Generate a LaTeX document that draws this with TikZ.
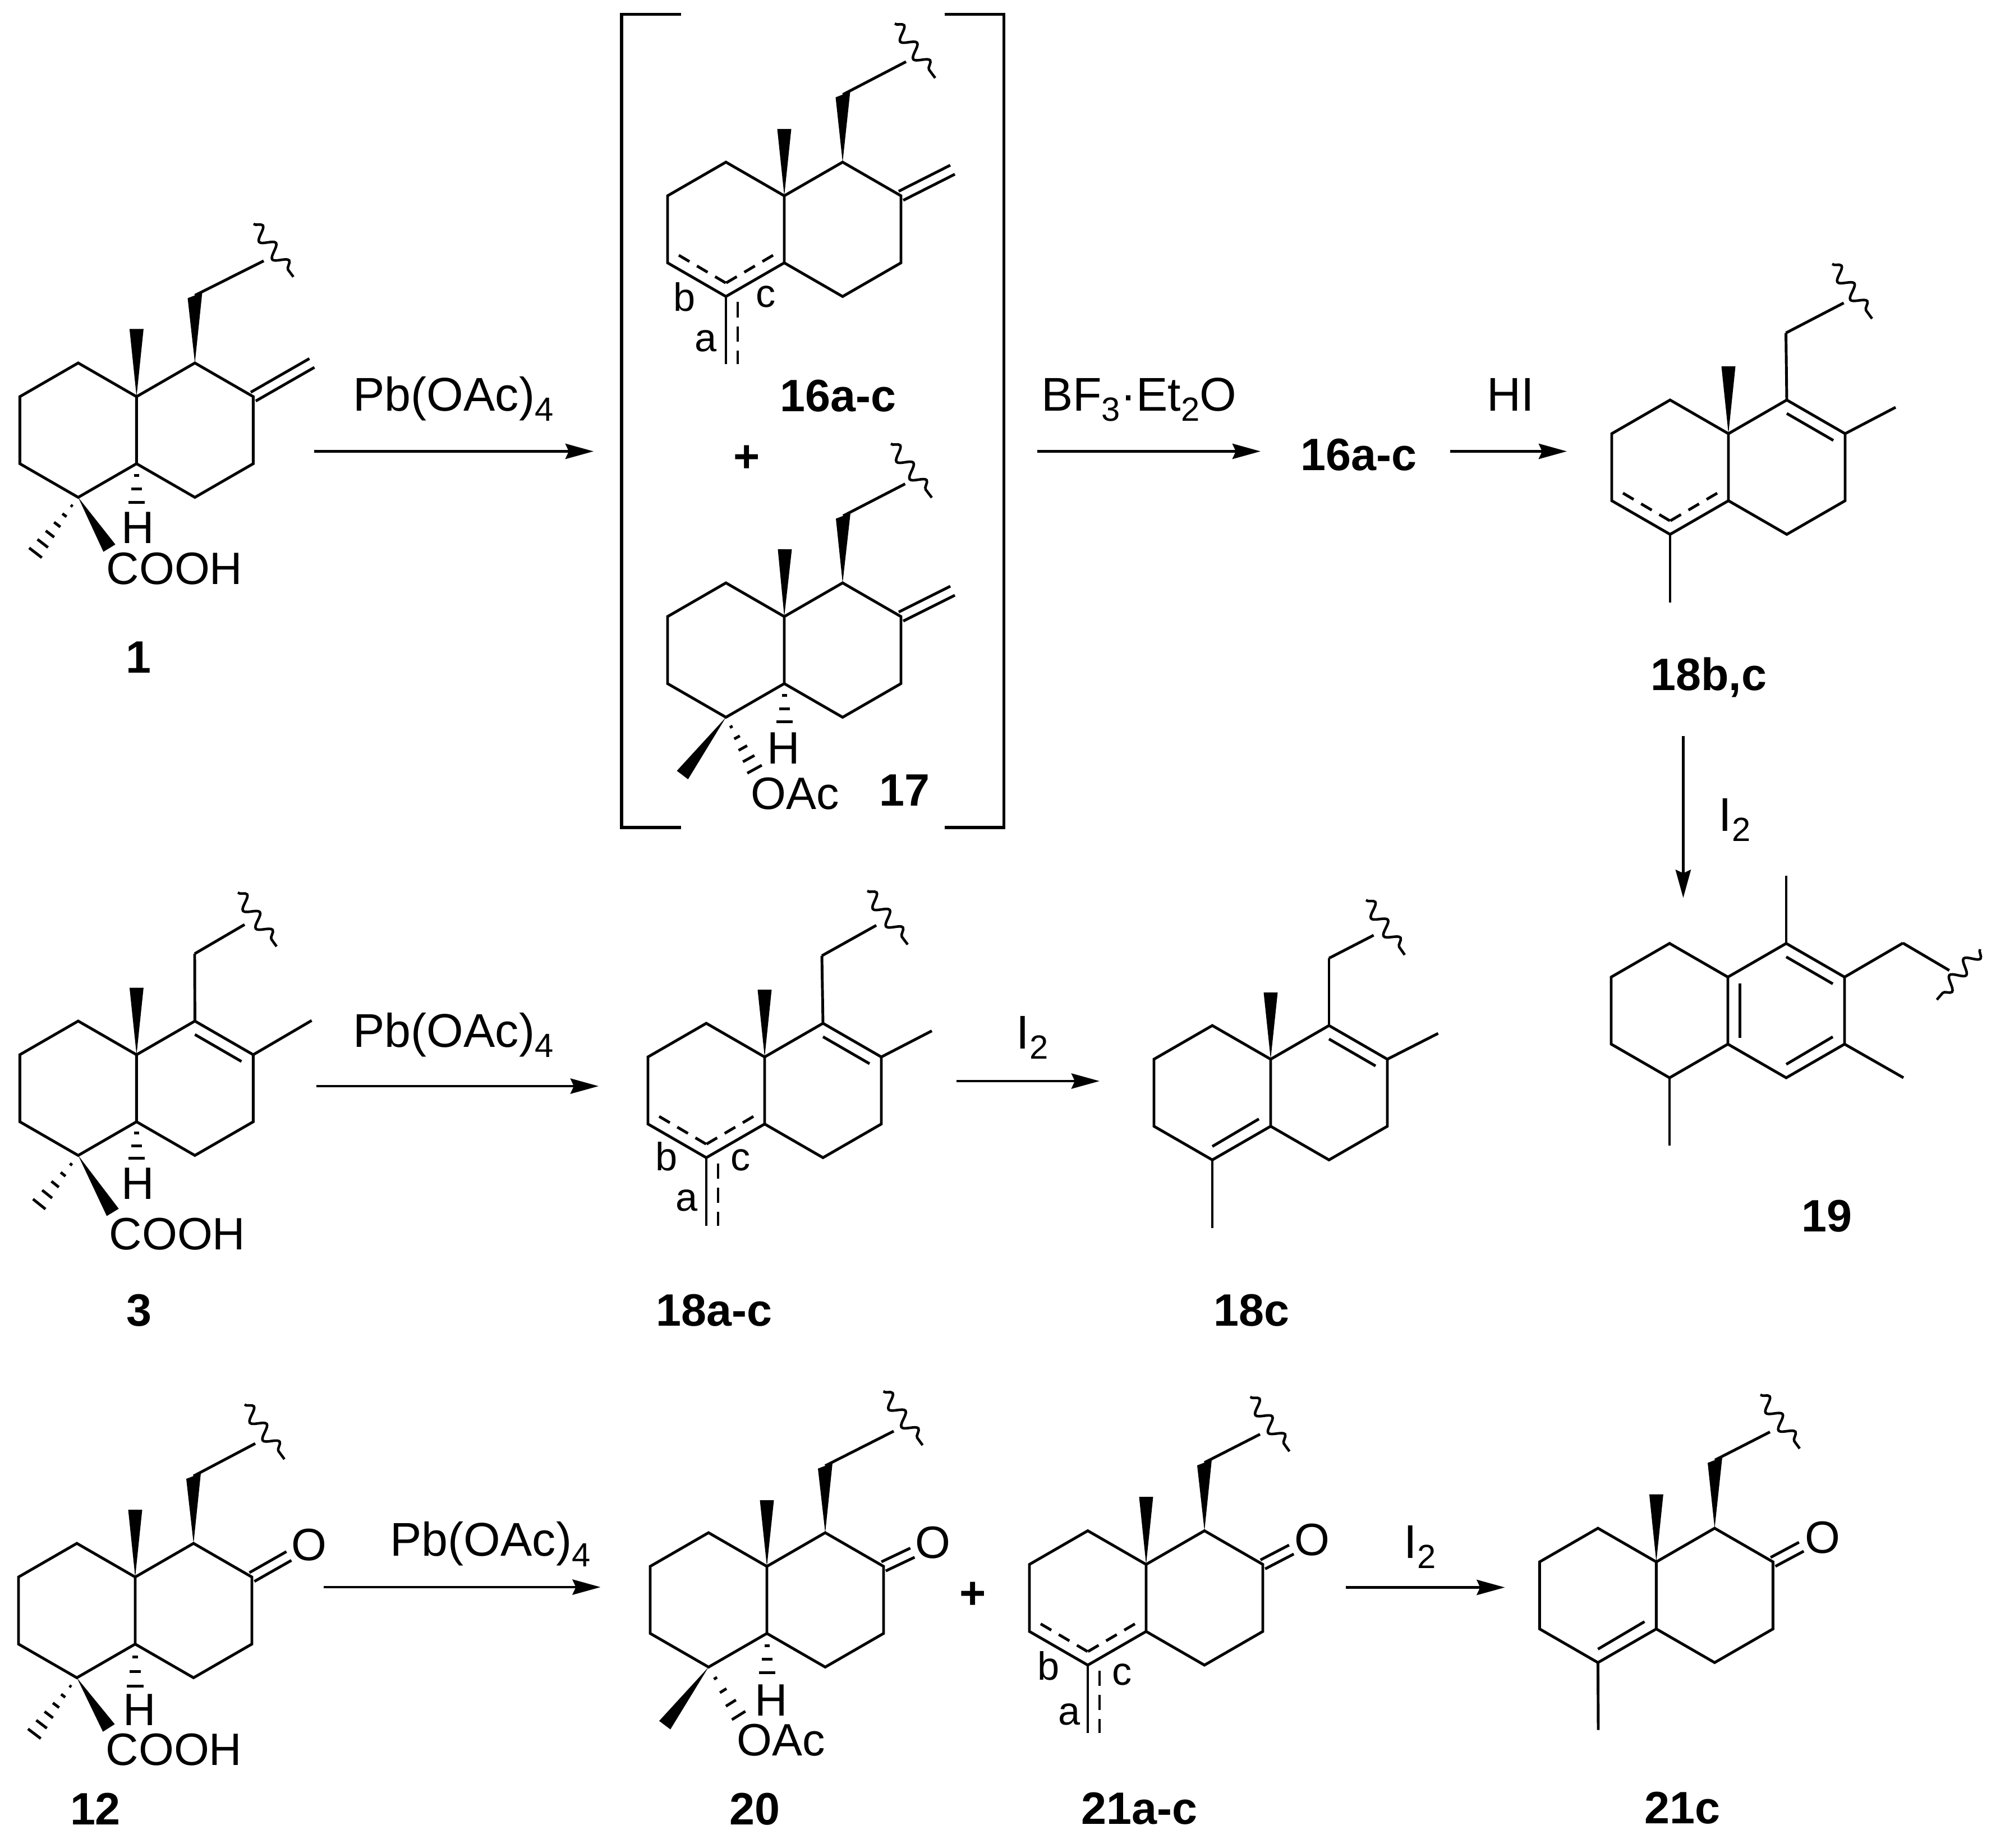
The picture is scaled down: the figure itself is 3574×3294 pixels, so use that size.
\documentclass[tikz,border=0pt]{standalone}
\usepackage{fontspec}
\setmainfont{Liberation Sans}
\usepackage{tikz}
\usetikzlibrary{arrows.meta, calc, decorations.pathmorphing}

\tikzset{
  bond/.style={line width=1.4pt},
  dashbond/.style={line width=1.4pt, dash pattern=on 2.7mm off 1.6mm},
  ringdash/.style={line width=1.4pt, dash pattern=on 2.2mm off 1.55mm},
  wavy/.style={line width=1.3pt, decorate, decoration={snake, segment length=3.9mm, amplitude=1.15mm}},
  rxn/.style={line width=1.4pt, -{Stealth[length=5mm, width=2.7mm, inset=0.6mm]}},
  atom/.style={inner sep=0pt, font=\fontsize{23}{27}\selectfont},
  reagent/.style={inner sep=0pt, anchor=base, font=\fontsize{24}{27}\selectfont},
  site/.style={inner sep=0pt, font=\fontsize{20}{22}\selectfont},
  cmpd/.style={inner sep=0pt, font=\fontsize{23}{27}\selectfont\bfseries}
}

% the two fused rings
\newcommand{\skeleton}[3]{
  \coordinate (#1c10) at (#2,#3);
  \coordinate (#1c1) at ($(#1c10)+(-104,-60)$);
  \coordinate (#1c2) at ($(#1c10)+(-208,0)$);
  \coordinate (#1c3) at ($(#1c10)+(-208,119.5)$);
  \coordinate (#1c4) at ($(#1c10)+(-104,179.5)$);
  \coordinate (#1c5) at ($(#1c10)+(0,119.5)$);
  \coordinate (#1c6) at ($(#1c10)+(104,179.5)$);
  \coordinate (#1c7) at ($(#1c10)+(208,119.5)$);
  \coordinate (#1c8) at ($(#1c10)+(208,0)$);
  \coordinate (#1c9) at ($(#1c10)+(104,-60)$);
  \draw[bond] (#1c10) -- (#1c1) -- (#1c2) -- (#1c3) -- (#1c4) -- (#1c5) -- cycle;
  \draw[bond] (#1c10) -- (#1c9) -- (#1c8) -- (#1c7) -- (#1c6) -- (#1c5);
}
\newcommand{\wedgebond}[2]{
  \fill ($(#2)!1.25mm!90:(#1)$) -- (#1) -- ($(#2)!1.25mm!-90:(#1)$) -- cycle;
}
\newcommand{\skewwedge}[2]{
  \fill (#1) -- ($(#2)+(-13,5)$) -- ($(#2)+(13,-5)$) -- cycle;
}
% #3 full width at the far end, #4 number of strokes
\newcommand{\hashbond}[4]{
  \foreach \i in {1,...,#4}{
    \pgfmathsetmacro{\t}{(\i-0.1)/#4}
    \pgfmathsetmacro{\hw}{\t*#3/2}
    \coordinate (hp) at ($(#1)!\t!(#2)$);
    \draw[bond] ($(hp)!\hw mm!90:(#2)$) -- ($(hp)!\hw mm!-90:(#2)$);
  }
}
\newcommand{\exodouble}[2]{
  \draw[bond] ($(#1)!0.9mm!90:(#2)$) -- ($(#2)!0.9mm!-90:(#1)$);
  \draw[bond] ($(#1)!0.9mm!-90:(#2)$) -- ($(#2)!0.9mm!90:(#1)$);
}
% CH2 bond and the wavy cut
\newcommand{\tailbond}[4]{
  \draw[bond] (#1) -- (#2);
  \draw[wavy] (#3) -- (#4);
}
\newcommand{\innertop}[1]{
  \draw[bond] ($(#1c9)+(0,24)$) -- ($(#1c8)+(-21,12)$);
}
\newcommand{\innerlow}[1]{
  \draw[bond] ($(#1c4)+(0,-24)$) -- ($(#1c5)+(-21,-13)$);
}
\newcommand{\dashring}[1]{
  \draw[ringdash] ($(#1c3)+(20,-13.5)$) -- ($(#1c4)+(0,-24)$);
  \draw[ringdash] ($(#1c5)+(-20,-13.5)$) -- ($(#1c4)+(0,-24)$);
}
\newcommand{\exoside}[1]{
  \coordinate (#1e) at ($(#1c4)+(0,121)$);
  \draw[bond] (#1c4) -- (#1e);
  \draw[dashbond] ($(#1c4)+(21,10)$) -- ($(#1e)+(21,0)$);
}
\newcommand{\subs}[1]{\raisebox{-0.22em}{\fontsize{17}{18}\selectfont #1}}

\begin{document}
\begin{tikzpicture}[x=0.01cm, y=-0.01cm]
\useasboundingbox (0,0) rectangle (3574,3294);

% compound 1
\skeleton{ma}{243.4}{707}
\coordinate (mame) at (243.4,586.5);
\coordinate (mach) at (347.5,526.5);
\coordinate (maend) at (470,465);
\coordinate (mawa) at (452,399);
\coordinate (mawb) at (523,493.5);
\coordinate (maexo) at (556,647);
\coordinate (mahash) at (62,987);
\coordinate (maacid) at (195,977);
\coordinate (mah) at (243.4,898);
\wedgebond{mac10}{mame}
\skewwedge{mac9}{mach}
\tailbond{mach}{maend}{mawa}{mawb}
\exodouble{mac8}{maexo}
\hashbond{mac4}{mahash}{2.9}{6}
\wedgebond{mac4}{maacid}
\hashbond{mac5}{mah}{3.0}{3}
\node[atom] (maH) at (246,941) {H};
\node[atom] (macooh) at (311,1014) {COOH};
\node[cmpd] (malab) at (247,1172) {1};

% first arrow
\coordinate (raa) at (560,804.5);
\coordinate (rab) at (1058,804.5);
\draw[rxn] (raa) -- (rab);
\node[reagent] (rat) at (808,732) {Pb(OAc)\subs{4}};

% bracket
\coordinate (bla) at (1214,25.5);
\coordinate (blb) at (1108,25.5);
\coordinate (blc) at (1108,1475);
\coordinate (bld) at (1214,1475);
\coordinate (bra) at (1684,25.5);
\coordinate (brb) at (1789.5,25.5);
\coordinate (brc) at (1789.5,1475);
\coordinate (brd) at (1684,1475);
\draw[bond, line width=1.6pt] (bla) -- (blb) -- (blc) -- (bld);
\draw[bond, line width=1.6pt] (bra) -- (brb) -- (brc) -- (brd);

% compound 16
\skeleton{mb}{1398}{349}
\coordinate (mbme) at (1398,230);
\coordinate (mbch) at (1502.5,168.5);
\coordinate (mbend) at (1615,110);
\coordinate (mbwa) at (1595,42);
\coordinate (mbwb) at (1667,139);
\coordinate (mbexo) at (1698,302.5);
\wedgebond{mbc10}{mbme}
\skewwedge{mbc9}{mbch}
\tailbond{mbch}{mbend}{mbwa}{mbwb}
\exodouble{mbc8}{mbexo}
\dashring{mb}
\exoside{mb}
\node[site] (mbb) at (1220.5,529) {b};
\node[site] (mbc) at (1364.6,529) {c};
\node[site] (mba) at (1258,608) {a};
\node[cmpd] (mblab) at (1494,706) {16a-c};
\node[atom] (plusa) at (1331,818) {\textbf{+}};

% compound 17
\skeleton{mc}{1398}{1099}
\coordinate (mcme) at (1399,979);
\coordinate (mcch) at (1503,919.5);
\coordinate (mcend) at (1613.4,862.5);
\coordinate (mcwa) at (1588,791);
\coordinate (mcwb) at (1661,887);
\coordinate (mcexo) at (1698,1053);
\coordinate (mcwedge) at (1216.5,1381.5);
\coordinate (mcoac) at (1346,1373);
\coordinate (mch) at (1398,1289);
\wedgebond{mcc10}{mcme}
\skewwedge{mcc9}{mcch}
\tailbond{mcch}{mcend}{mcwa}{mcwb}
\exodouble{mcc8}{mcexo}
\wedgebond{mcc4}{mcwedge}
\hashbond{mcc4}{mcoac}{3.0}{5}
\hashbond{mcc5}{mch}{3.0}{3}
\node[atom] (mcH) at (1396.6,1334) {H};
\node[atom] (mcO) at (1417,1415) {OAc};
\node[cmpd] (mclab) at (1612,1409) {17};

% BF3 and HI steps
\coordinate (rba) at (1849,804.5);
\coordinate (rbb) at (2247,804.5);
\draw[rxn] (rba) -- (rbb);
\node[reagent] (rbt) at (2030,732) {BF\subs{3}·Et\subs{2}O};
\node[cmpd] (mblabb) at (2422,811) {16a-c};
\coordinate (rca) at (2585,804.5);
\coordinate (rcb) at (2793,804.5);
\draw[rxn] (rca) -- (rcb);
\node[reagent] (rct) at (2693,732) {HI};

% compound 18b,c
\skeleton{md}{3081}{773}
\coordinate (mdme) at (3081,653);
\coordinate (mdch) at (3183.5,593.5);
\coordinate (mdend) at (3286.5,540);
\coordinate (mdwa) at (3266,470.5);
\coordinate (mdwb) at (3337,568);
\coordinate (mdcme) at (3379,726);
\coordinate (mdlow) at (2977,1073.7);
\wedgebond{mdc10}{mdme}
\draw[bond] (mdc9) -- (mdch);
\tailbond{mdch}{mdend}{mdwa}{mdwb}
\draw[bond] (mdc8) -- (mdcme);
\innertop{md}
\dashring{md}
\draw[bond] (mdc4) -- (mdlow);
\node[cmpd] (mdlab) at (3046,1207) {18b,c};

% down to 19
\coordinate (rda) at (3000.4,1312);
\coordinate (rdb) at (3000.4,1600.5);
\draw[rxn] (rda) -- (rdb);
\node[reagent] (rdt) at (3092,1481) {I\subs{2}};

% compound 19
\skeleton{me}{3080}{1741.6}
\coordinate (metop) at (3184,1561);
\coordinate (mech) at (3392,1681);
\coordinate (meend) at (3474.7,1729.7);
\coordinate (mewa) at (3529.5,1692);
\coordinate (mewb) at (3452.5,1782);
\coordinate (merme) at (3393,1921);
\coordinate (melow) at (2976,2042);
\draw[bond] (mec9) -- (metop);
\draw[bond] (mec8) -- (mech);
\tailbond{mech}{meend}{mewa}{mewb}
\draw[bond] (mec7) -- (merme);
\draw[bond] (mec4) -- (melow);
\draw[bond] ($(mec10)+(21.5,11)$) -- ($(mec5)+(21.5,-11)$);
\innertop{me}
\draw[bond] ($(mec7)+(-21,-13)$) -- ($(mec6)+(0,-24)$);
\node[cmpd] (melab) at (3256.6,2167.5) {19};

% compound 3
\skeleton{mf}{243.4}{1880}
\coordinate (mfme) at (243.4,1760.5);
\coordinate (mfch) at (347,1700);
\coordinate (mfend) at (436,1648);
\coordinate (mfwa) at (424,1591);
\coordinate (mfwb) at (493,1687);
\coordinate (mfcme) at (555.6,1819);
\coordinate (mfhash) at (68.5,2148);
\coordinate (mfacid) at (201,2161);
\coordinate (mfh) at (243.4,2067);
\wedgebond{mfc10}{mfme}
\draw[bond] (mfc9) -- (mfch);
\tailbond{mfch}{mfend}{mfwa}{mfwb}
\draw[bond] (mfc8) -- (mfcme);
\innertop{mf}
\hashbond{mfc4}{mfhash}{2.9}{5}
\wedgebond{mfc4}{mfacid}
\hashbond{mfc5}{mfh}{3.0}{3}
\node[atom] (mfH) at (245.5,2110) {H};
\node[atom] (mfcooh) at (316,2199.6) {COOH};
\node[cmpd] (mflab) at (248,2336) {3};

% second row arrows
\coordinate (rea) at (564,1936);
\coordinate (reb) at (1067,1936);
\draw[rxn] (rea) -- (reb);
\node[reagent] (ret) at (808,1866) {Pb(OAc)\subs{4}};

% compound 18a-c
\skeleton{mg}{1363}{1884}
\coordinate (mgme) at (1363,1764);
\coordinate (mgch) at (1465,1703.6);
\coordinate (mgend) at (1562,1649.4);
\coordinate (mgwa) at (1546,1588);
\coordinate (mgwb) at (1618,1683.6);
\coordinate (mgcme) at (1661,1837.5);
\wedgebond{mgc10}{mgme}
\draw[bond] (mgc9) -- (mgch);
\tailbond{mgch}{mgend}{mgwa}{mgwb}
\draw[bond] (mgc8) -- (mgcme);
\innertop{mg}
\dashring{mg}
\exoside{mg}
\node[site] (mgb) at (1188,2061) {b};
\node[site] (mgc) at (1320,2068) {c};
\node[site] (mga) at (1224.5,2140) {a};
\node[cmpd] (mglab) at (1273,2336) {18a-c};

\coordinate (rfa) at (1705,1927);
\coordinate (rfb) at (1960,1927);
\draw[rxn] (rfa) -- (rfb);
\node[reagent] (rft) at (1840,1869) {I\subs{2}};

% compound 18c
\skeleton{mh}{2265}{1888}
\coordinate (mhme) at (2265,1769);
\coordinate (mhch) at (2369,1708);
\coordinate (mhend) at (2448.6,1667);
\coordinate (mhwa) at (2435,1604.4);
\coordinate (mhwb) at (2504,1702);
\coordinate (mhcme) at (2563.5,1842);
\coordinate (mhlow) at (2161,2188.7);
\wedgebond{mhc10}{mhme}
\draw[bond] (mhc9) -- (mhch);
\tailbond{mhch}{mhend}{mhwa}{mhwb}
\draw[bond] (mhc8) -- (mhcme);
\innertop{mh}
\innerlow{mh}
\draw[bond] (mhc4) -- (mhlow);
\node[cmpd] (mhlab) at (2231,2336) {18c};

% compound 12
\skeleton{mi}{241}{2811}
\coordinate (mime) at (241,2691);
\coordinate (mich) at (345,2631);
\coordinate (miend) at (455,2573);
\coordinate (miwa) at (436,2503.6);
\coordinate (miwb) at (507,2601);
\coordinate (mioxo) at (515,2773.5);
\coordinate (mihash) at (60,3092);
\coordinate (miacid) at (194,3080);
\coordinate (mih) at (241,3008);
\wedgebond{mic10}{mime}
\skewwedge{mic9}{mich}
\tailbond{mich}{miend}{miwa}{miwb}
\exodouble{mic8}{mioxo}
\hashbond{mic4}{mihash}{2.9}{6}
\wedgebond{mic4}{miacid}
\hashbond{mic5}{mih}{3.0}{3}
\node[atom] (miO) at (551,2754) {O};
\node[atom] (miH) at (249,3048) {H};
\node[atom] (micooh) at (310,3119) {COOH};
\node[cmpd] (milab) at (170,3224) {12};

\coordinate (rga) at (577,2829);
\coordinate (rgb) at (1070.6,2829);
\draw[rxn] (rga) -- (rgb);
\node[reagent] (rgt) at (874,2773.5) {Pb(OAc)\subs{4}};

% compound 20
\skeleton{mj}{1367}{2792}
\coordinate (mjme) at (1367,2674);
\coordinate (mjch) at (1471,2612.7);
\coordinate (mjend) at (1593,2551);
\coordinate (mjwa) at (1574.6,2480);
\coordinate (mjwb) at (1644.6,2576);
\coordinate (mjoxo) at (1626.5,2767.6);
\coordinate (mjwedge) at (1185,3075);
\coordinate (mjoac) at (1318,3060);
\coordinate (mjh) at (1367,2984);
\wedgebond{mjc10}{mjme}
\skewwedge{mjc9}{mjch}
\tailbond{mjch}{mjend}{mjwa}{mjwb}
\exodouble{mjc8}{mjoxo}
\wedgebond{mjc4}{mjwedge}
\hashbond{mjc4}{mjoac}{2.9}{4}
\hashbond{mjc5}{mjh}{3.0}{3}
\node[atom] (mjO) at (1662.5,2750) {O};
\node[atom] (mjH) at (1375,3031) {H};
\node[atom] (mjoa) at (1392,3101.5) {OAc};
\node[cmpd] (mjlab) at (1345.4,3225) {20};
\node[atom] (plusb) at (1734.6,2843.5) {\textbf{+}};

% compound 21a-c
\skeleton{mk}{2043}{2788.5}
\coordinate (mkme) at (2043,2668);
\coordinate (mkch) at (2147,2607);
\coordinate (mkend) at (2246,2556.5);
\coordinate (mkwa) at (2228.6,2490);
\coordinate (mkwb) at (2298.5,2587);
\coordinate (mkoxo) at (2302,2762);
\wedgebond{mkc10}{mkme}
\skewwedge{mkc9}{mkch}
\tailbond{mkch}{mkend}{mkwa}{mkwb}
\exodouble{mkc8}{mkoxo}
\dashring{mk}
\exoside{mk}
\node[atom] (mkO) at (2339,2745) {O};
\node[site] (mkb) at (1869,2969.4) {b};
\node[site] (mkc) at (2000,2984.5) {c};
\node[site] (mka) at (1905.6,3055.5) {a};
\node[cmpd] (mklab) at (2030.6,3223.4) {21a-c};

\coordinate (rha) at (2399,2829.5);
\coordinate (rhb) at (2682.5,2829.5);
\draw[rxn] (rha) -- (rhb);
\node[reagent] (rht) at (2531,2777) {I\subs{2}};

% compound 21c
\skeleton{ml}{2952.4}{2784}
\coordinate (mlme) at (2952.4,2663.5);
\coordinate (mlch) at (3057,2602.5);
\coordinate (mlend) at (3155,2552.4);
\coordinate (mlwa) at (3138,2486);
\coordinate (mlwb) at (3208,2582);
\coordinate (mloxo) at (3211,2757);
\coordinate (mllow) at (2849,3083.6);
\wedgebond{mlc10}{mlme}
\skewwedge{mlc9}{mlch}
\tailbond{mlch}{mlend}{mlwa}{mlwb}
\exodouble{mlc8}{mloxo}
\innerlow{ml}
\draw[bond] (mlc4) -- (mllow);
\node[atom] (mlO) at (3249,2740.5) {O};
\node[cmpd] (mllab) at (2999,3223) {21c};
\end{tikzpicture}
\end{document}
